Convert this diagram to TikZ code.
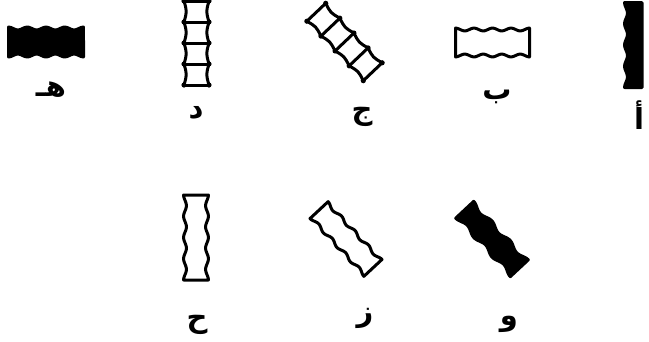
\documentclass[tikz,border=0pt]{standalone}
\usepackage{fontspec}
\newfontfamily\arabicfont[Script=Arabic]{DejaVu Sans}
\TeXXeTstate=1
\usepackage{tikz}
\usetikzlibrary{positioning}

% bar with wavy long sides: x, y, angle, half length, half width, waves, wave one side, wave other side, fill
\newcommand{\wavybar}[9]{%
  \begin{scope}[shift={(#1,#2)}, rotate=#3]
    \filldraw[bar, fill=#9]
      plot[domain=-#4:#4] (\x, {-#5-#7*cos((\x+#4)*(#6*180/#4))})
      -- plot[domain=#4:-#4] (\x, {#5+#8*cos((\x+#4)*(#6*180/#4))})
      -- cycle;
  \end{scope}}

% ladder of four cells: x, y, angle, half length, half width
\newcommand{\ladderbar}[5]{%
  \begin{scope}[shift={(#1,#2)}, rotate=#3]
    \foreach \k in {0,...,3} {
      \pgfmathsetmacro\xa{-#4+\k*#4/2}
      \pgfmathsetmacro\xb{\xa+#4/2}
      \draw[bar] (\xa,-#5) .. controls ({(\xa+\xb)/2},{-#5+3}) .. (\xb,-#5);
      \draw[bar] (\xa,#5) .. controls ({(\xa+\xb)/2},{#5-3}) .. (\xb,#5);
    }
    \foreach \k in {0,...,4} {
      \pgfmathsetmacro\xa{-#4+\k*#4/2}
      \draw[bar] (\xa,-#5) -- (\xa,#5);
      \fill (\xa,-#5) circle[radius=2.6pt] (\xa,#5) circle[radius=2.6pt];
    }
  \end{scope}}

\begin{document}
\begin{tikzpicture}[
    x=1pt, y=-1pt,
    bar/.style={draw, line width=3pt, line join=round, samples=80},
    letter/.style={font=\arabicfont\bfseries\fontsize{29}{32}\selectfont, inner sep=0pt}
]
    \useasboundingbox (0,0) rectangle (649,341);

    % Top row
    \wavybar{634}{45}{90}{42.5}{8}{4}{1.4}{0}{black}
    \wavybar{492.5}{42.5}{0}{37}{13}{4}{1.4}{1.4}{white}
    \ladderbar{344.5}{42}{-46.5}{41}{13}
    \ladderbar{196.5}{43}{90}{42}{12.5}
    \wavybar{46}{42}{0}{37.5}{13.5}{4}{1.4}{1.4}{black}

    \node[letter] (alef) at (639,115) {\beginR أ\endR};
    \node[letter] (beh)  at (497,97)  {\beginR ب\endR};
    \node[letter] (jeem) at (362,117) {\beginR ج\endR};
    \node[letter] (dal)  at (196,113) {\beginR د\endR};
    \node[letter] (heh)  at (51,90)   {\beginR هـ\endR};

    % Bottom row
    \wavybar{492}{239}{-47}{40}{10.5}{3}{1.8}{1.8}{black}
    \wavybar{346}{239}{-47}{39.5}{11}{4}{1.4}{1.4}{white}
    \wavybar{196}{237.5}{90}{42.5}{11}{4}{1.4}{1.4}{white}

    \node[letter] (waw)  at (509,324) {\beginR و\endR};
    \node[letter] (zain) at (365,318) {\beginR ز\endR};
    \node[letter] (hah)  at (197,325) {\beginR ح\endR};

\end{tikzpicture}
\end{document}
